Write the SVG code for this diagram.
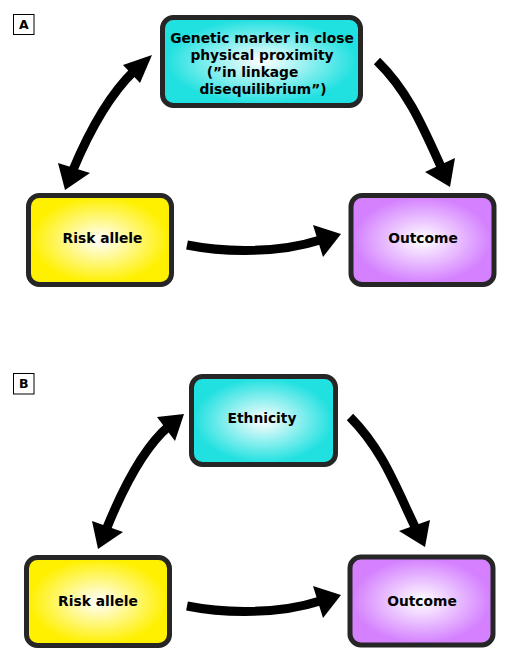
<svg xmlns="http://www.w3.org/2000/svg" width="528" height="672" viewBox="0 0 528 672">
<style>
.node{stroke:#262626;stroke-width:5}
.lbl{font-family:"DejaVu Sans","Liberation Sans",sans-serif;font-weight:bold;font-size:13.8px;fill:#000}
.tag{fill:#fff;stroke:#000;stroke-width:1}
.tagt{font-family:"DejaVu Sans","Liberation Sans",sans-serif;font-weight:bold;font-size:12.5px;fill:#000}
.shaft{fill:none;stroke:#000;stroke-width:9}
.head{fill:#000}
</style>
<defs>
<radialGradient id="gc" cx="50%" cy="50%" r="62%"><stop offset="0" stop-color="#fff"/><stop offset="0.78" stop-color="#20e0e0"/></radialGradient>
<radialGradient id="gy" cx="50%" cy="50%" r="62%"><stop offset="0" stop-color="#fff"/><stop offset="0.78" stop-color="#fff000"/></radialGradient>
<radialGradient id="gp" cx="50%" cy="50%" r="62%"><stop offset="0" stop-color="#fff"/><stop offset="0.78" stop-color="#d480ff"/></radialGradient>
</defs>
<rect width="528" height="672" fill="#fff"/>

<g id="tagA"><rect class="tag" x="13.5" y="14.5" width="20.5" height="20"/><text class="tagt" x="23.75" y="29" text-anchor="middle">A</text></g>
<g id="tagB"><rect class="tag" x="13.5" y="373.5" width="20.5" height="20.5"/><text class="tagt" x="23.75" y="388" text-anchor="middle">B</text></g>

<g id="connectors">
<path class="shaft" d="M73,170 Q101,103 134,71"/>
<polygon class="head" points="152,55 123,65 140,83"/>
<polygon class="head" points="65,190 58,163 90,173"/>
<path class="shaft" d="M377,61 C408,91 423,127 442,169"/>
<polygon class="head" points="450,187 425,172 455,158"/>
<path class="shaft" d="M187,245 C227,253 280,253 320,240"/>
<polygon class="head" points="341,234 313,225 323,257"/>

<path class="shaft" d="M106,530 Q137,453 169,426"/>
<polygon class="head" points="184,414 157,417 175,441"/>
<polygon class="head" points="98,549 92,521 123,532"/>
<path class="shaft" d="M350,417 C382,449 395,485 416,529"/>
<polygon class="head" points="425,547 399,531 430,520"/>
<path class="shaft" d="M187,606 C227,614 280,614 320,601"/>
<polygon class="head" points="341,595 313,586 323,618"/>
</g>

<g id="markerA">
<rect class="node" x="162.5" y="17.5" width="198" height="88" rx="11" fill="url(#gc)"/>
<text class="lbl" x="262" y="43" text-anchor="middle">Genetic marker in close</text>
<text class="lbl" x="262" y="60" text-anchor="middle">physical proximity</text>
<text class="lbl" x="252.5" y="77" text-anchor="middle">(”in linkage</text>
<text class="lbl" x="263" y="94" text-anchor="middle">disequilibrium”)</text>
</g>
<g id="riskA">
<rect class="node" x="28.5" y="195.5" width="143" height="89" rx="11" fill="url(#gy)"/>
<text class="lbl" x="102.5" y="243" text-anchor="middle">Risk allele</text>
</g>
<g id="outcomeA">
<rect class="node" x="351" y="195.5" width="143" height="89" rx="11" fill="url(#gp)"/>
<text class="lbl" x="423" y="243" text-anchor="middle">Outcome</text>
</g>

<g id="ethnicityB">
<rect class="node" x="191.5" y="376.5" width="144" height="88" rx="11" fill="url(#gc)"/>
<text class="lbl" x="262" y="423" text-anchor="middle">Ethnicity</text>
</g>
<g id="riskB">
<rect class="node" x="26.5" y="557.5" width="143" height="88" rx="11" fill="url(#gy)"/>
<text class="lbl" x="98" y="606" text-anchor="middle">Risk allele</text>
</g>
<g id="outcomeB">
<rect class="node" x="350" y="557" width="143" height="88" rx="11" fill="url(#gp)"/>
<text class="lbl" x="422" y="606" text-anchor="middle">Outcome</text>
</g>
</svg>
